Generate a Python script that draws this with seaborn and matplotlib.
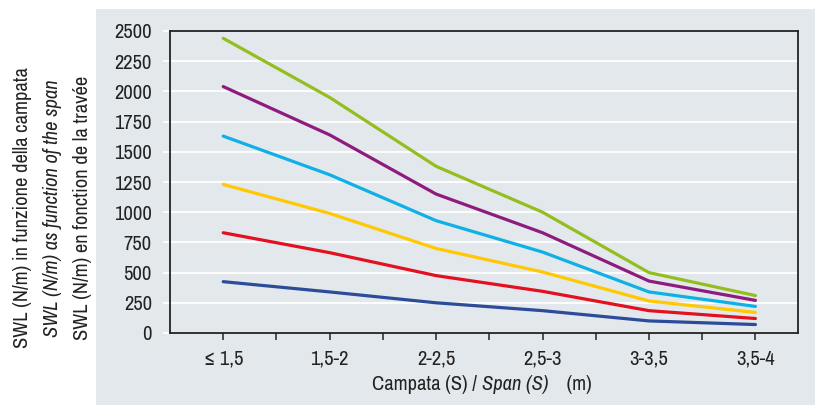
import matplotlib
matplotlib.use("Agg")
import matplotlib.pyplot as plt
from matplotlib import font_manager
from matplotlib.patches import Rectangle
import seaborn as sns
import pandas as pd
import numpy as np

categories = ["≤ 1,5", "1,5-2", "2-2,5", "2,5-3", "3-3,5", "3,5-4"]
series_green = [2440, 1950, 1380, 1000, 500, 310]
series_purple = [2040, 1640, 1150, 830, 430, 270]
series_cyan = [1630, 1310, 930, 670, 340, 220]
series_yellow = [1230, 990, 700, 505, 265, 170]
series_red = [830, 665, 475, 345, 185, 120]
series_blue = [425, 340, 250, 185, 100, 70]
y_ticks = [0, 250, 500, 750, 1000, 1250, 1500, 1750, 2000, 2250, 2500]

series = {
    "green": series_green,
    "purple": series_purple,
    "cyan": series_cyan,
    "yellow": series_yellow,
    "red": series_red,
    "blue": series_blue,
}
palette = {
    "green": "#94BE1E",
    "purple": "#8E1C7E",
    "cyan": "#0FB0E6",
    "yellow": "#FFC800",
    "red": "#E3101F",
    "blue": "#2C4B99",
}

rows = []
for name, vals in series.items():
    for i, v in enumerate(vals):
        rows.append({"pos": i, "value": v, "series": name})
df = pd.DataFrame(rows)

sns.set_theme(style="white")
names = sorted({f.name for f in font_manager.fontManager.ttflist})
narrow = [n for n in names if ("Narrow" in n or "Condensed" in n)]
fam = narrow[0] if narrow else "Liberation Sans"
plt.rcParams["font.family"] = [fam, "DejaVu Sans"]
FS = 14.8 if narrow else 12.5

W, H = 815, 405
fig = plt.figure(figsize=(W / 100, H / 100), dpi=100, facecolor="white")
bg = "#E3E8EC"
fig.patches.append(Rectangle((96 / W, 0), 1 - 96 / W, (H - 9) / H,
                             transform=fig.transFigure, facecolor=bg,
                             edgecolor="none", zorder=-10))

ax = fig.add_axes([170 / W, (H - 333) / H, 628 / W, 302 / H])
ax.set_facecolor(bg)
sns.lineplot(data=df, x="pos", y="value", hue="series", palette=palette,
             linewidth=2.3, legend=False, ax=ax, sort=False)

ax.set_xlim(-0.5, 5.4)
ax.set_ylim(0, 2500)
ax.set_yticks(y_ticks)
ax.set_yticklabels([str(t) for t in y_ticks], fontsize=FS, color="#222222")
ax.set_xticks(range(len(categories)))
ax.set_xticklabels(categories, fontsize=FS, color="#222222")
ax.set_xticks(np.arange(0.5, len(categories) - 1, 1.0), minor=True)
ax.grid(axis="y", color="white", linewidth=1.3)
ax.set_axisbelow(True)
for s in ax.spines.values():
    s.set_color("#222222")
    s.set_linewidth(1.3)
ax.tick_params(axis="x", which="both", direction="out", length=5, width=1.2,
               color="#333333", pad=7, bottom=True)
ax.tick_params(axis="y", direction="out", length=5, width=1.3, color="white",
               pad=8, left=True)
ax.set_xlabel("")
ax.set_ylabel("")

# y label (three lines, rotated)
lines = [("SWL (N/m) in funzione della campata", "normal", 23),
         ("SWL (N/m) as function of the span", "italic", 53),
         ("SWL (N/m) en fonction de la travée", "normal", 83)]
for txt, style, xp in lines:
    fig.text(xp / W, 1 - 208 / H, txt, rotation=90, ha="center", va="center",
             fontsize=FS, style=style, color="#222222")

# x label with italic part
fig.canvas.draw()
r = fig.canvas.get_renderer()
parts = [("Campata (S) / ", "normal"), ("Span (S)", "italic"), ("    (m)", "normal")]
objs = []
widths = []
for t, st in parts:
    o = fig.text(0, 1 - 384 / H, t, fontsize=FS, style=st, va="center",
                 ha="left", color="#222222")
    objs.append(o)
    widths.append(o.get_window_extent(r).width)
total = sum(widths)
x0 = 482 - total / 2
for o, w in zip(objs, widths):
    o.set_x(x0 / W)
    x0 += w

fig.savefig("out.png", dpi=100, facecolor="white")
